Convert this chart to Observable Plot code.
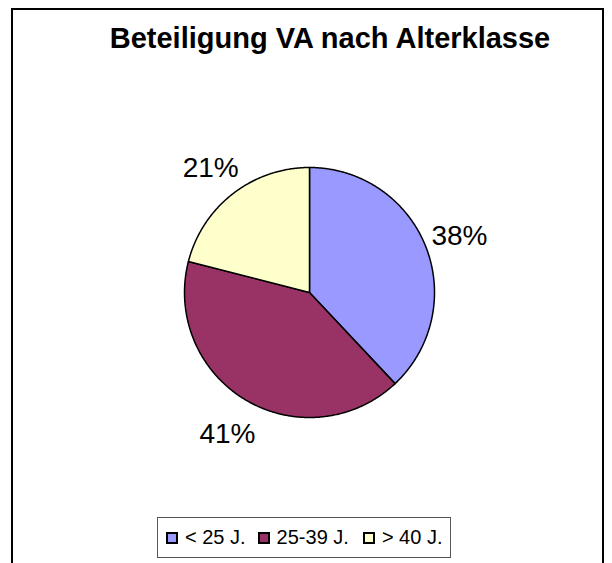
<!DOCTYPE html>
<html>
<head>
<meta charset="utf-8">
<script src="https://cdn.jsdelivr.net/npm/d3@7"></script>
<script src="https://cdn.jsdelivr.net/npm/@observablehq/plot@0.6"></script>
<style>
  html, body { margin: 0; padding: 0; background: #fff; }
  body { width: 612px; height: 563px; overflow: hidden; font-family: "Liberation Sans", Arial, sans-serif; }
  #wrap { position: relative; width: 612px; height: 563px; }
  #frame { position: absolute; left: 11px; top: 8px; width: 589px; height: 600px; border: 2px solid #000; box-sizing: content-box; }
  #title { position: absolute; left: 0; width: 660px; top: 22px; text-align: center; font-weight: bold; font-size: 29px; color: #000; white-space: nowrap; }
  #chart { position: absolute; left: 109px; top: 122px; }
  #legend { position: absolute; left: 157px; top: 517px; height: 39px; border: 1px solid #555; display: flex; align-items: center; padding: 0 8px 0 8px; font-size: 20px; color: #000; white-space: nowrap; }
  .item { display: flex; align-items: center; }
  .sw { width: 8px; height: 8px; border: 2px solid #000; margin-right: 7px; }
</style>
</head>
<body>
<div id="wrap">
  <div id="frame"></div>
  <div id="title"></div>
  <div id="chart"></div>
  <div id="legend"></div>
</div>
<script>
const title = "Beteiligung VA nach Alterklasse";
const categories = ["< 25 J.", "25-39 J.", "> 40 J."];
const shares = [38, 41, 21];
const colors = ["#9999FF", "#993366", "#FFFFCC"];

document.getElementById("title").textContent = title;

const total = d3.sum(shares);
const slices = [];
let acc = 0;
shares.forEach((v, i) => {
  const a0 = acc / total * 2 * Math.PI;
  acc += v;
  const a1 = acc / total * 2 * Math.PI;
  slices.push({cat: categories[i], value: v, a0, a1, mid: (a0 + a1) / 2});
});

const pts = [];
for (const s of slices) {
  pts.push({cat: s.cat, x: 0, y: 0});
  const n = Math.max(2, Math.ceil((s.a1 - s.a0) / (Math.PI / 360)));
  for (let k = 0; k <= n; k++) {
    const a = s.a0 + (s.a1 - s.a0) * k / n;
    pts.push({cat: s.cat, x: Math.sin(a), y: Math.cos(a)});
  }
  pts.push({cat: s.cat, x: 0, y: 0});
}

const labelR = 1.29;
const labels = slices.map(s => ({
  text: Math.round(s.value / total * 100) + "%",
  x: Math.sin(s.mid) * labelR,
  y: Math.cos(s.mid) * labelR
}));

const plot = Plot.plot({
  width: 400,
  height: 340,
  margin: 0,
  x: {domain: [-1.6, 1.6], axis: null},
  y: {domain: [-1.36, 1.36], axis: null},
  color: {domain: categories, range: colors},
  style: {background: "transparent", fontFamily: "'Liberation Sans', Arial, sans-serif"},
  marks: [
    Plot.line(pts, {x: "x", y: "y", z: "cat", fill: "cat", stroke: "#000", strokeWidth: 1.5, strokeLinejoin: "round", curve: "linear"}),
    Plot.text(labels, {x: "x", y: "y", text: "text", fontSize: 28, fill: "#000", dy: 3})
  ]
});
document.getElementById("chart").appendChild(plot);

const legend = document.getElementById("legend");
const gaps = [0, 12, 14];
categories.forEach((c, i) => {
  const it = document.createElement("div");
  it.className = "item";
  it.style.marginLeft = gaps[i] + "px";
  const sw = document.createElement("div");
  sw.className = "sw";
  sw.style.background = colors[i];
  const t = document.createElement("span");
  t.textContent = c;
  it.appendChild(sw);
  it.appendChild(t);
  legend.appendChild(it);
});
</script>
</body>
</html>
